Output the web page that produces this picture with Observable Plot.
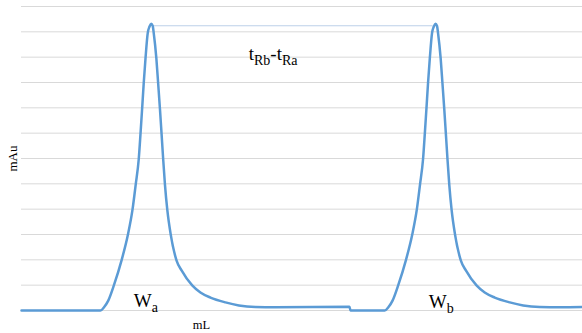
<!DOCTYPE html>
<html>
<head>
<meta charset="utf-8">
<script src="https://cdn.jsdelivr.net/npm/d3@7"></script>
<script src="https://cdn.jsdelivr.net/npm/@observablehq/plot@0.6"></script>
<style>
  html, body { margin: 0; padding: 0; background: #fff; }
  svg text { font-family: "Liberation Serif", "Times New Roman", serif; }
</style>
</head>
<body>
<div id="chart"></div>
<script>
// Elution volume (mL, arbitrary units)
const volume = [
  0, 3.94, 4.11, 4.33, 4.61, 4.99, 5.31, 5.54, 5.70, 5.85, 5.94, 6.02, 6.10, 6.19, 6.30, 6.39, 6.47,
  6.55, 6.60, 6.73, 6.82, 6.91, 6.99, 7.07, 7.16, 7.28, 7.45, 7.74, 7.99, 8.52, 8.93, 9.43, 10.18, 10.85,
  11.68, 12.68, 16.37, 16.42,
  18.13, 18.30, 18.52, 18.80, 19.18, 19.50, 19.73, 19.89, 20.04, 20.13, 20.21, 20.29, 20.38, 20.49, 20.58,
  20.66, 20.74, 20.79, 20.92, 21.01, 21.10, 21.18, 21.26, 21.35, 21.47, 21.64, 21.93, 22.18, 22.71, 23.12,
  23.62, 24.37, 25.04, 25.87, 26.87, 28.00
];
// Detector response (mAu)
const absorbance = [
  0, 0, 0.12, 0.39, 0.99, 1.97, 2.99, 3.98, 4.97, 5.96, 6.98, 7.96, 8.97, 9.96, 10.95, 11.21, 11.32,
  11.23, 10.95, 9.96, 8.97, 7.96, 6.98, 5.99, 4.97, 3.95, 2.99, 1.97, 1.58, 0.99, 0.71, 0.51, 0.32, 0.20,
  0.14, 0.13, 0.15, 0,
  0, 0.12, 0.39, 0.99, 1.97, 2.99, 3.98, 4.97, 5.96, 6.98, 7.96, 8.97, 9.96, 10.95, 11.21,
  11.32, 11.23, 10.95, 9.96, 8.97, 7.96, 6.98, 5.99, 4.97, 3.95, 2.99, 1.97, 1.58, 0.99, 0.71,
  0.51, 0.32, 0.20, 0.14, 0.13, 0.14
];
// Horizontal gridline values
const gridTicks = [0, 1, 2, 3, 4, 5, 6, 7, 8, 9, 10, 11, 12];
// Retention connector between the two peak tops
const connectorVolume = [6.60, 20.50];
const connectorLevel = 11.24;
// Annotation labels (_{...} marks a subscript)
const annotationText = ["W_{a}", "W_{b}", "t_{Rb}-t_{Ra}"];
const annotationVolume = [5.60, 20.33, 11.34];
const annotationLevel = [0.13, 0.09, 9.87];
const xTitle = "mL";
const yTitle = "mAu";
const xTitleVolume = 8.98;
const yTitleLevel = 6.0;

const trace = volume.map((v, i) => ({v, a: absorbance[i]}));
const connector = connectorVolume.map(v => ({v, a: connectorLevel}));
const annotations = annotationText.map((t, i) => ({t, v: annotationVolume[i], a: annotationLevel[i]}));

const serif = "Liberation Serif";

const chart = Plot.plot({
  width: 582,
  height: 333,
  marginLeft: 21,
  marginRight: 0,
  marginTop: 6,
  marginBottom: 23,
  style: "font-family: 'Liberation Serif', serif; background: #fff; color: #000;",
  x: {domain: [0, 28], axis: null},
  y: {domain: [0, 12], axis: null},
  marks: [
    Plot.ruleY(gridTicks, {stroke: "#d9d9d9", strokeWidth: 1}),
    Plot.line(connector, {x: "v", y: "a", stroke: "#bdd0e9", strokeWidth: 1}),
    Plot.line(trace, {x: "v", y: "a", stroke: "#5b9bd5", strokeWidth: 2.5, curve: "monotone-x"}),
    Plot.text(annotations, {x: "v", y: "a", text: "t", textAnchor: "start", lineAnchor: "bottom", fontSize: 19, fontFamily: serif, fill: "#000"}),
    Plot.text([yTitle], {y: () => yTitleLevel, frameAnchor: "left", dx: -8.5, rotate: -90, textAnchor: "middle", text: d => d, fontSize: 13, fontFamily: serif, fill: "#000"}),
    Plot.text([xTitle], {x: () => xTitleVolume, frameAnchor: "bottom", dy: 18, lineAnchor: "bottom", text: d => d, fontSize: 12.5, fontFamily: serif, fill: "#000"})
  ]
});

// Turn _{...} markup into real subscript tspans
const NS = "http://www.w3.org/2000/svg";
chart.querySelectorAll("text").forEach(t => {
  const s = t.textContent;
  if (!s.includes("_{")) return;
  t.textContent = "";
  const parts = s.split(/(_\{[^}]*\})/);
  let shifted = false;
  for (const p of parts) {
    if (!p) continue;
    const ts = document.createElementNS(NS, "tspan");
    if (p.startsWith("_{")) {
      ts.textContent = p.slice(2, -1);
      ts.setAttribute("font-size", 14);
      if (!shifted) ts.setAttribute("dy", 5);
      shifted = true;
    } else {
      ts.textContent = p;
      if (shifted) ts.setAttribute("dy", -5);
      shifted = false;
    }
    t.appendChild(ts);
  }
});

document.getElementById("chart").appendChild(chart);
</script>
</body>
</html>
